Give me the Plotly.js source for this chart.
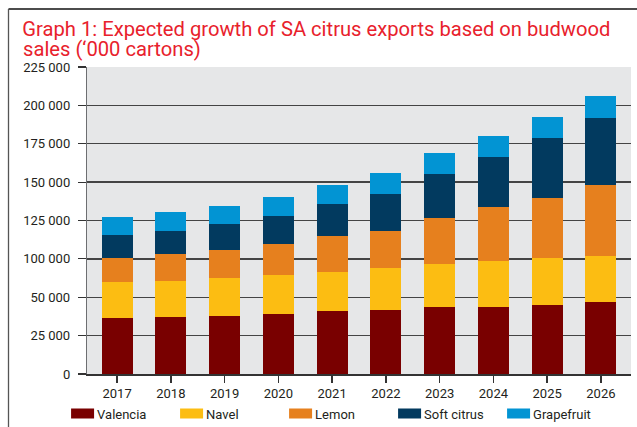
<!DOCTYPE html>
<html>
<head>
<meta charset="utf-8">
<script src="https://cdn.plot.ly/plotly-3.0.1.min.js"></script>
<style>
html,body{margin:0;padding:0;background:#fff;}
#chart{width:637px;height:427px;}
</style>
</head>
<body>
<div id="chart"></div>
<script>
// Categories
const years = ['2017','2018','2019','2020','2021','2022','2023','2024','2025','2026'];
// Series values (bar heights as drawn against the printed gridlines)
const valencia   = [36500, 37100, 37800, 39100, 41100, 41700, 43700, 43700, 45000, 46900];
const navel      = [23500, 23500, 24800, 25400, 25400, 27400, 28000, 30000, 30600, 30000];
const lemon      = [15600, 17600, 18300, 20200, 23500, 24100, 30000, 35200, 39100, 46300];
const softCitrus = [15000, 15000, 16900, 18200, 20900, 24100, 28700, 32600, 39100, 43700];
const grapefruit = [11700, 12400, 11700, 12400, 12400, 13700, 13700, 13700, 13700, 14300];
// Tick positions and the labels printed on the original axis
const yTickVals = [0, 25000, 50000, 75000, 100000, 125000, 150000, 175000, 200000];
const yTickText = ['0', '25 000', '50 000', '100 000', '125 000', '150 000', '175 000', '200 000', '225 000'];
const seriesNames = ['Valencia', 'Navel', 'Lemon', 'Soft citrus', 'Grapefruit'];
const seriesColors = ['#790000', '#fcbd12', '#e6801e', '#023a5f', '#0294d3'];
const titleLine1 = 'Graph 1: Expected growth of SA citrus exports based on budwood';
const titleLine2 = 'sales (‘000 cartons)';

const seriesData = [valencia, navel, lemon, softCitrus, grapefruit];
const traces = seriesData.map((vals, i) => ({
  type: 'bar',
  name: seriesNames[i],
  x: years,
  y: vals,
  marker: {color: seriesColors[i], line: {width: 0}},
  hoverinfo: 'x+y+name'
}));

const font = 'Roboto, "Open Sans", sans-serif';
const titleFont = {family: font, size: 20.2, color: '#e8212c'};
const layout = {
  width: 637, height: 427,
  margin: {l: 87, r: 6, t: 67, b: 53, autoexpand: false},
  paper_bgcolor: '#ffffff',
  plot_bgcolor: '#e6e7e8',
  barmode: 'stack',
  bargap: 0.423,
  font: {family: font, size: 13, color: '#231f20'},
  title: {
    text: titleLine1,
    font: titleFont,
    xref: 'container', x: 0.035, xanchor: 'left',
    yref: 'container', y: 0.948, yanchor: 'top'
  },
  annotations: [{
    text: titleLine2, showarrow: false,
    xref: 'paper', yref: 'paper',
    x: (21 - 87) / 544, xanchor: 'left',
    y: (374 - 35) / 307, yanchor: 'top',
    font: titleFont
  }],
  xaxis: {
    type: 'category',
    range: [-0.56, 9.56],
    showgrid: false,
    showline: true, linecolor: '#333333', linewidth: 1.5,
    ticks: 'outside', ticklen: 7, tickcolor: '#333333', tickwidth: 1.3,
    tickfont: {family: font, size: 13, color: '#231f20'},
    fixedrange: true
  },
  yaxis: {
    range: [0, 200000],
    tickvals: yTickVals,
    ticktext: yTickText,
    showgrid: true, gridcolor: '#444444', gridwidth: 1.3,
    zeroline: false,
    showline: true, linecolor: '#6d6e71', linewidth: 1.2,
    ticks: 'outside', ticklen: 8, tickcolor: '#333333', tickwidth: 1.2,
    ticklabelstandoff: 5,
    tickfont: {family: font, size: 13, color: '#231f20'},
    fixedrange: true
  },
  showlegend: true,
  legend: {
    orientation: 'h',
    x: -0.055, xanchor: 'left',
    y: -0.08, yanchor: 'top',
    font: {family: font, size: 13, color: '#231f20'},
    entrywidth: 64, entrywidthmode: 'pixels',
    traceorder: 'normal',
    bgcolor: 'rgba(0,0,0,0)', borderwidth: 0,
    tracegroupgap: 0
  },
  shapes: [
    {type: 'line', xref: 'paper', yref: 'paper', x0: (8.5-87)/544, x1: 1.02, y0: (374-9)/307, y1: (374-9)/307,
     line: {color: '#111111', width: 1.6}},
    {type: 'line', xref: 'paper', yref: 'paper', x0: (8.5-87)/544, x1: (8.5-87)/544, y0: (374-9)/307, y1: -0.2,
     line: {color: '#555555', width: 1.3}}
  ]
};

Plotly.newPlot('chart', traces, layout, {displayModeBar: false, staticPlot: true}).then(gd => {
  // widen legend swatches to the reference's rectangular keys
  gd.querySelectorAll('.legend .legendpoints path').forEach(p => {
    p.setAttribute('d', 'M-6,5H17V-5H-6Z');
  });
});
</script>
</body>
</html>
